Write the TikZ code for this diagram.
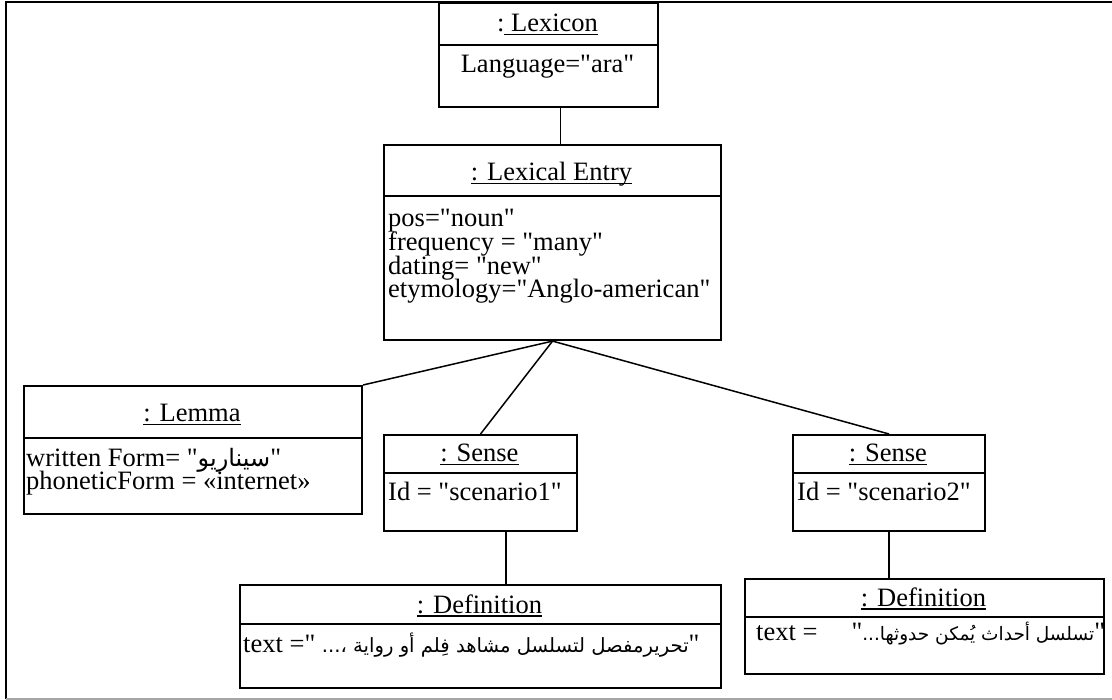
\documentclass[tikz,border=0pt]{standalone}
\usepackage{fontspec}
\setmainfont{Liberation Serif}[Ligatures=TeXOff]
\newfontfamily\arabicfont[Script=Arabic]{DejaVu Sans}
\TeXXeTstate=1

% underlined object name: a rule below the baseline
\newsavebox\ulinbox
\newcommand\ulin[1]{\sbox\ulinbox{#1}\rlap{\rule[-3.5pt]{\wd\ulinbox}{1.5pt}}\usebox\ulinbox}
% Arabic font at a given size
\newcommand\arabsize[1]{\fontsize{#1}{24}\selectfont\arabicfont}

\tikzset{
  objbox/.style={draw, line width=2.1pt, inner sep=0pt, anchor=north west},
  link/.style={line width=1.5pt},
  lbl/.style={inner sep=0pt, font=\fontsize{26.5}{24}\selectfont},
  ttl/.style={lbl, anchor=base},
  attr/.style={lbl, anchor=base west},
}

\begin{document}
\begin{tikzpicture}[x=1pt, y=-1pt]
\useasboundingbox (0,0) rectangle (1112,700);

% outer frame
\draw[line width=2.8pt] (6,699) -- (6,2) -- (1112,2);
\draw[gray!70, line width=1.5pt] (6,699) -- (1112,699);

% : Lexicon
\node[objbox, minimum width=219pt, minimum height=104pt] (lexicon) at (438,2) {};
\node[objbox, minimum width=219pt, minimum height=42pt] (lexiconH) at (438,2) {};
\node[ttl] (lexiconT) at (547.5,32) {:\ulin{ Lexicon}};
\node[ttl] (lexiconA) at (547.5,73) {Language="ara"};

% : Lexical Entry
\node[objbox, minimum width=337pt, minimum height=195pt] (entry) at (383,144) {};
\node[objbox, minimum width=337pt, minimum height=51pt] (entryH) at (383,144) {};
\node[ttl] (entryT) at (551.5,181) {\ulin{: Lexical Entry}};
\node[attr] (entryA1) at (388,227) {pos="noun"};
\node[attr] (entryA2) at (388,251) {frequency = "many"};
\node[attr] (entryA3) at (388,275) {dating= "new"};
\node[attr] (entryA4) at (388,298) {etymology="Anglo-american"};

% : Lemma
\node[objbox, minimum width=338pt, minimum height=128pt] (lemma) at (23,385) {};
\node[objbox, minimum width=338pt, minimum height=52pt] (lemmaH) at (23,385) {};
\node[ttl] (lemmaT) at (192,422) {\ulin{: Lemma}};
\node[attr] (lemmaA1) at (26,467) {written Form= "{\arabsize{24}\beginR سيناريو\endR}"};
\node[attr] (lemmaA2) at (26,490) {phoneticForm = «internet»};

% : Sense (1)
\node[objbox, minimum width=193pt, minimum height=96pt] (sense1) at (383,434) {};
\node[objbox, minimum width=193pt, minimum height=38pt] (sense1H) at (383,434) {};
\node[ttl] (sense1T) at (479.5,462) {\ulin{: Sense}};
\node[attr] (sense1A) at (388,501) {Id = "scenario1"};

% : Sense (2)
\node[objbox, minimum width=192pt, minimum height=96pt] (sense2) at (792,434) {};
\node[objbox, minimum width=192pt, minimum height=38pt] (sense2H) at (792,434) {};
\node[ttl] (sense2T) at (888,462) {\ulin{: Sense}};
\node[attr] (sense2A) at (797,501) {Id = "scenario2"};

% : Definition (1)
\node[objbox, minimum width=481pt, minimum height=103pt] (def1) at (239,584) {};
\node[objbox, minimum width=481pt, minimum height=39pt] (def1H) at (239,584) {};
\node[ttl] (def1T) at (479.5,613) {\ulin{: Definition}};
\node[attr] (def1A) at (243,652) {text =" {\arabsize{19.6}\beginR تحريرمفصل  لتسلسل مشاهد فِلم أو رواية ،...\endR}"};

% : Definition (2)
\node[objbox, minimum width=359pt, minimum height=95pt] (def2) at (744,578) {};
\node[objbox, minimum width=359pt, minimum height=38pt] (def2H) at (744,578) {};
\node[ttl] (def2T) at (923.5,606) {\ulin{: Definition}};
\node[attr] (def2A) at (756,640) {text =\hspace{34pt}"{\arabsize{18.5}\beginR تسلسل أحداث يُمكن حدوثها...\endR}"};

% links
\draw[link] ([xshift=12pt]lexicon.south) -- ([xshift=12pt]lexicon.south |- entry.north);
\draw[link] (entry.south) -- (lemma.north east);
\draw[link] (entry.south) -- (sense1.north);
\draw[link] (entry.south) -- (sense2.north);
\draw[link] ([xshift=25.5pt]sense1.south) -- ([xshift=25.5pt]def1.north);
\draw[link] (sense2.south) -- (sense2.south |- def2.north);
\end{tikzpicture}
\end{document}
